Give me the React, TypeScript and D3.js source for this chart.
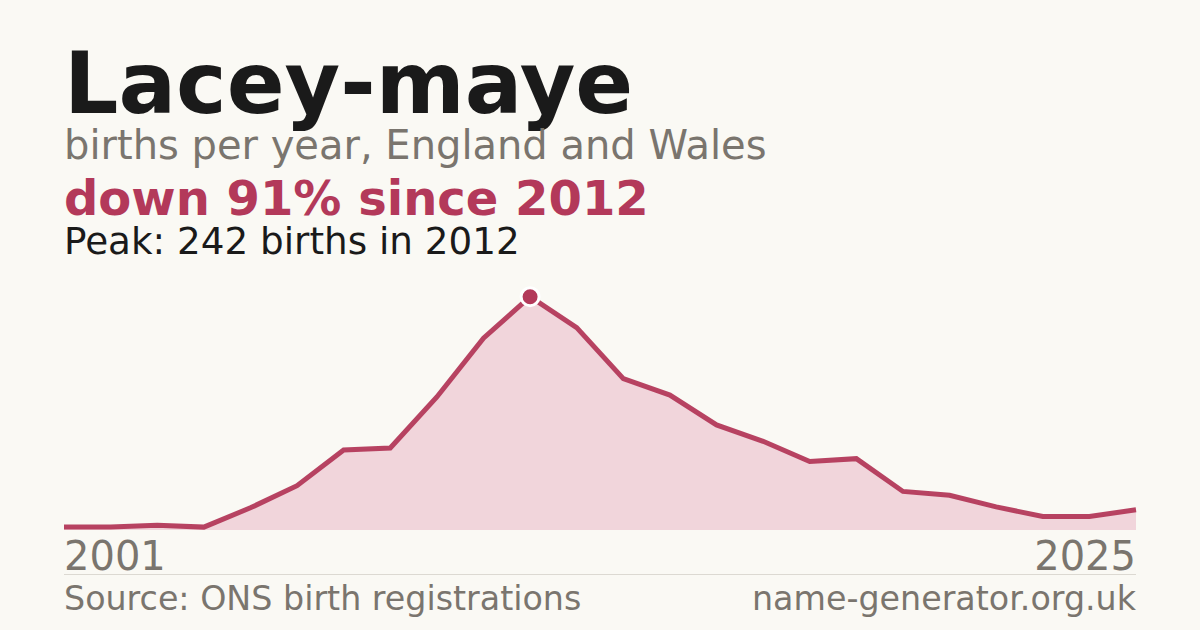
import React from "react";
import * as d3 from "d3";

const years: number[] = [2001, 2003, 2004, 2005, 2006, 2007, 2008, 2009, 2010, 2011, 2012, 2013, 2014, 2015, 2016, 2017, 2018, 2019, 2020, 2021, 2022, 2023, 2024, 2025];
const births: number[] = [3, 3, 5, 3, 23, 46, 83, 85, 138, 199, 242, 210, 157, 140, 109, 92, 71, 74, 40, 36, 24, 14, 14, 21];
const tickLabels: string[] = ["2001", "2025"];

const title = "Lacey-maye";
const subtitle = "births per year, England and Wales";
const headline = "down 91% since 2012";
const peakLine = "Peak: 242 births in 2012";
const source = "Source: ONS birth registrations";
const site = "name-generator.org.uk";

const W = 1200;
const H = 630;
const BG = "#faf9f4";
const ACCENT = "#b3395a";
const FILL = "#f1d5db";
const GRAY = "#7a756e";
const DARK = "#1a1a1a";
const FONT = "'DejaVu Sans', sans-serif";

export default function App() {
  const left = 64;
  const right = 1136;
  const base = 530;
  const top = 296.7;

  const x = d3.scalePoint<number>().domain(years).range([left, right]);
  const maxV = d3.max(births) as number;
  const y = d3.scaleLinear().domain([0, maxV]).range([base, top]);

  const pts = years.map((yr, i) => ({ yr, v: births[i] }));
  const area = d3
    .area<{ yr: number; v: number }>()
    .x((d) => x(d.yr) as number)
    .y0(base)
    .y1((d) => y(d.v));
  const line = d3
    .line<{ yr: number; v: number }>()
    .x((d) => x(d.yr) as number)
    .y((d) => y(d.v));

  const peakIdx = births.indexOf(maxV);
  const px = x(years[peakIdx]) as number;
  const py = y(maxV);

  return (
    <svg
      width={W}
      height={H}
      viewBox={`0 0 ${W} ${H}`}
      style={{ position: "absolute", left: 0, top: 0, display: "block" }}
    >
      <rect x={0} y={0} width={W} height={H} fill={BG} />
      <text x={left} y={113} fontFamily={FONT} fontWeight="bold" fontSize={85.4} fill={DARK}>
        {title}
      </text>
      <text x={left} y={159} fontFamily={FONT} fontSize={40} fill={GRAY}>
        {subtitle}
      </text>
      <text x={left} y={215} fontFamily={FONT} fontWeight="bold" fontSize={48} fill={ACCENT}>
        {headline}
      </text>
      <text x={left} y={254} fontFamily={FONT} fontSize={37.3} fill={DARK}>
        {peakLine}
      </text>

      <path d={area(pts) || ""} fill={FILL} />
      <path d={line(pts) || ""} fill="none" stroke={ACCENT} strokeWidth={5} strokeOpacity={0.95} />
      <circle cx={px} cy={py} r={9} fill={ACCENT} stroke="#ffffff" strokeWidth={3} />

      <text x={left} y={570} fontFamily={FONT} fontSize={40} fill={GRAY} textAnchor="start">
        {tickLabels[0]}
      </text>
      <text x={right} y={570} fontFamily={FONT} fontSize={40} fill={GRAY} textAnchor="end">
        {tickLabels[1]}
      </text>
      <line x1={left} x2={right} y1={574.5} y2={574.5} stroke="#dcd9d2" strokeWidth={1} />
      <text x={left} y={610} fontFamily={FONT} fontSize={33.3} fill={GRAY}>
        {source}
      </text>
      <text x={right} y={610} fontFamily={FONT} fontSize={33.3} fill={GRAY} textAnchor="end">
        {site}
      </text>
    </svg>
  );
}
